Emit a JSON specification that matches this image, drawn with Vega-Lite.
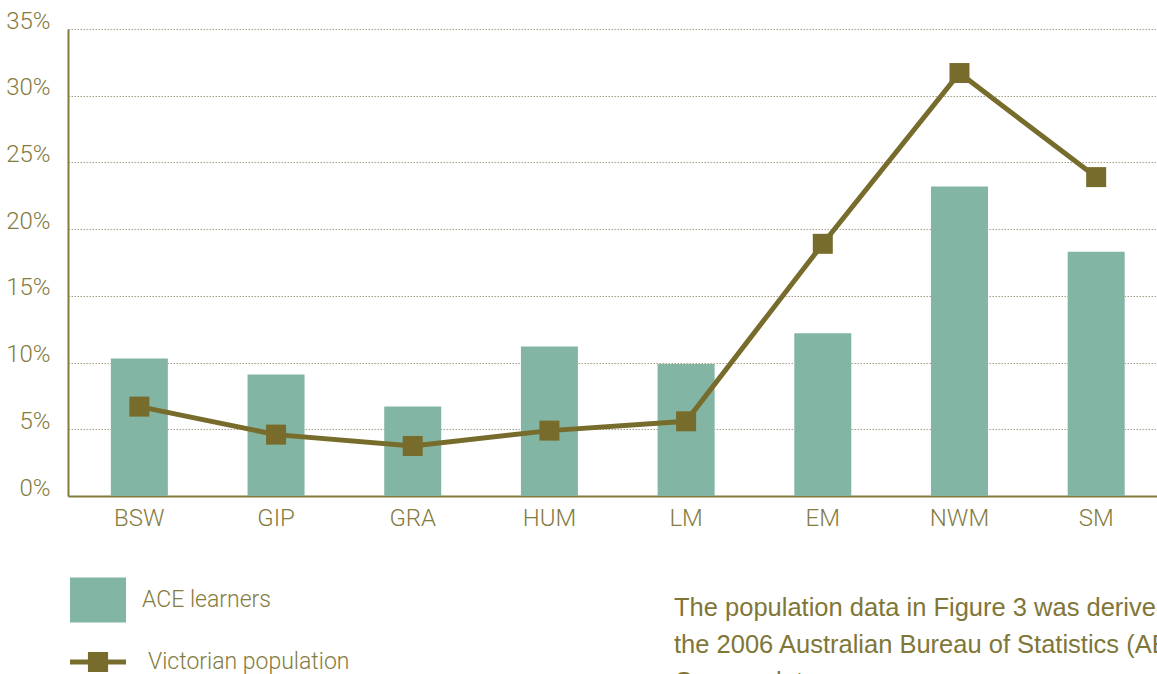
{
  "$schema": "https://vega.github.io/schema/vega-lite/v6.json",
  "autosize": "none",
  "width": 1089,
  "height": 467,
  "padding": {"left": 68, "top": 29, "right": 0, "bottom": 178},
  "background": "white",
  "title": {
    "text": ["The population data in Figure 3 was derived from", "the 2006 Australian Bureau of Statistics (ABS)", "Census data."],
    "orient": "bottom",
    "anchor": "start",
    "frame": "group",
    "dx": 606,
    "offset": -78,
    "baseline": "top",
    "font": "Liberation Sans",
    "fontSize": 25.5,
    "fontWeight": "normal",
    "lineHeight": 37,
    "color": "#7F7638",
    "limit": 2000
  },
  "data": {
    "values": [
      {"region": "BSW", "ace": 10.3, "vic": 6.7},
      {"region": "GIP", "ace": 9.1, "vic": 4.6},
      {"region": "GRA", "ace": 6.7, "vic": 3.75},
      {"region": "HUM", "ace": 11.2, "vic": 4.9},
      {"region": "LM", "ace": 9.9, "vic": 5.6},
      {"region": "EM", "ace": 12.2, "vic": 18.9},
      {"region": "NWM", "ace": 23.2, "vic": 31.7},
      {"region": "SM", "ace": 18.3, "vic": 23.9}
    ]
  },
  "config": {
    "view": {"stroke": null},
    "axis": {
      "labelFont": "Roboto",
      "labelFontWeight": 300,
      "labelFontSize": 24,
      "labelColor": "#847B3F",
      "domainColor": "#857A3E",
      "domainWidth": 2,
      "ticks": false,
      "title": null
    },
    "legend": {
      "labelFont": "Roboto",
      "labelFontWeight": 300,
      "labelFontSize": 23,
      "labelColor": "#847B3F",
      "labelLimit": 0,
      "padding": 0,
      "title": null
    }
  },
  "encoding": {
    "x": {
      "field": "region",
      "type": "nominal",
      "sort": null,
      "scale": {"paddingInner": 0.583, "paddingOuter": 0.275, "align": 0.57},
      "axis": {"labelAngle": 0, "labelPadding": 10, "grid": false}
    }
  },
  "layer": [
    {
      "mark": {"type": "bar", "color": "#82B5A3"},
      "encoding": {
        "y": {
          "field": "ace",
          "type": "quantitative",
          "scale": {"domain": [0, 35], "nice": false},
          "axis": {
            "values": [0, 5, 10, 15, 20, 25, 30, 35],
            "labelExpr": "datum.value + '%'",
            "labelPadding": 18,
            "labelOffset": -8,
            "grid": true,
            "gridColor": "#A69E85",
            "gridDash": [1.5, 1.5],
            "gridWidth": 1
          }
        },
        "fill": {
          "datum": "ACE learners",
          "type": "nominal",
          "scale": {"range": ["#82B5A3"]},
          "legend": {
            "orient": "none",
            "legendX": 2,
            "legendY": 543,
            "symbolType": "M-1,-0.8H1V0.8H-1Z",
            "symbolSize": 3136,
            "symbolStrokeWidth": 0,
            "labelOffset": 16
          }
        }
      }
    },
    {
      "mark": {"type": "line", "color": "#786C2C", "strokeWidth": 5},
      "encoding": {
        "y": {"field": "vic", "type": "quantitative"},
        "stroke": {
          "datum": "Victorian population",
          "type": "nominal",
          "scale": {"range": ["#786C2C"]},
          "legend": {
            "orient": "none",
            "legendX": 2,
            "legendY": 605,
            "symbolType": "M-1,-0.09H1V0.09H-1Z M-0.36,-0.36H0.36V0.36H-0.36Z",
            "symbolSize": 3136,
            "symbolFillColor": "#786C2C",
            "symbolStrokeWidth": 0,
            "labelOffset": 22,
            "encode": {
              "symbols": {
                "update": {
                  "fill": {"value": "#786C2C"},
                  "stroke": {"value": "transparent"},
                  "strokeWidth": {"value": 0}
                }
              }
            }
          }
        }
      }
    },
    {
      "mark": {"type": "point", "shape": "square", "filled": true, "size": 400, "color": "#786C2C", "opacity": 1},
      "encoding": {
        "y": {"field": "vic", "type": "quantitative"}
      }
    }
  ]
}
